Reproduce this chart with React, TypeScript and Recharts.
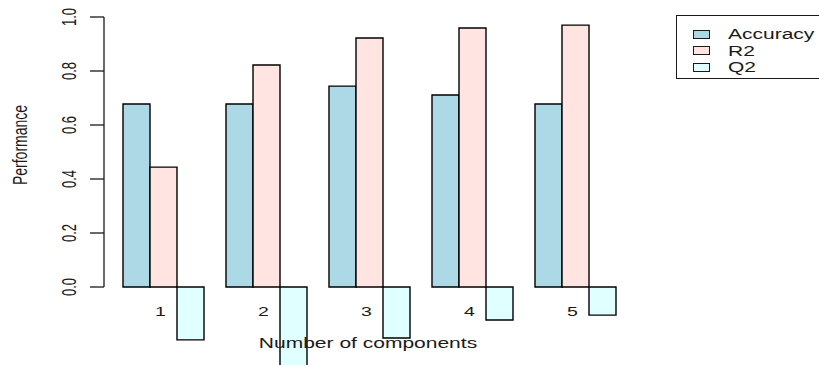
import { Bar, BarChart, LabelList, ReferenceLine, XAxis, YAxis } from 'recharts'

const components = ['1', '2', '3', '4', '5']
const accuracy = [0.678, 0.678, 0.744, 0.711, 0.678]
const r2 = [0.444, 0.822, 0.922, 0.959, 0.97]
const q2 = [-0.196, -0.35, -0.189, -0.122, -0.104]
const yTicks = [0, 0.2, 0.4, 0.6, 0.8, 1]

const series = [
  { key: 'accuracy', name: 'Accuracy', color: '#ADD8E6' },
  { key: 'r2', name: 'R2', color: '#FFE4E1' },
  { key: 'q2', name: 'Q2', color: '#E0FFFF' },
]

const data = components.map((name, i) => ({
  name,
  accuracy: accuracy[i],
  r2: r2[i],
  q2: q2[i],
}))

const FONT = '"Liberation Sans", Arial, sans-serif'
const INK = '#1a1a1a'
const AXIS_X = 104

function YTick({ y, payload }: any) {
  return (
    <g>
      <line x1={AXIS_X - 14} y1={y} x2={AXIS_X} y2={y} stroke={INK} strokeWidth={1.3} />
      <text
        transform={`translate(70, ${y}) scale(1.5, 1) rotate(-90)`}
        textAnchor="middle"
        dominantBaseline="central"
        fontSize={13}
        fontFamily={FONT}
        fill={INK}
      >
        {payload.value.toFixed(1)}
      </text>
    </g>
  )
}

function CategoryLabel({ x, y, width, height, value }: any) {
  const cx = x + width / 2
  const cy = y + height + 25
  return (
    <text
      transform={`translate(${cx - 3}, ${cy}) scale(1.5, 1)`}
      textAnchor="middle"
      dominantBaseline="central"
      fontSize={13}
      fontFamily={FONT}
      fill={INK}
    >
      {value}
    </text>
  )
}

function LegendBox() {
  return (
    <div
      style={{
        position: 'absolute',
        left: 676,
        top: 15,
        border: `1px solid ${INK}`,
        width: 170,
        height: 64,
        boxSizing: 'border-box',
        paddingTop: 10,
        fontFamily: FONT,
      }}
    >
      {series.map((s) => (
        <div key={s.key} style={{ display: 'flex', alignItems: 'center', height: 16.5 }}>
          <div
            style={{
              marginLeft: 16,
              width: 15,
              height: 7,
              background: s.color,
              border: `1.2px solid ${INK}`,
            }}
          />
          <span
            style={{
              marginLeft: 18,
              fontSize: 14,
              color: INK,
              display: 'inline-block',
              transform: 'scaleX(1.5)',
              transformOrigin: 'left center',
              lineHeight: '16px',
            }}
          >
            {s.name}
          </span>
        </div>
      ))}
    </div>
  )
}

export default function App() {
  return (
    <div
      style={{
        position: 'fixed',
        left: 0,
        top: 0,
        width: 819,
        height: 365,
        overflow: 'hidden',
        background: '#fff',
      }}
    >
      <BarChart
        width={819}
        height={422}
        data={data}
        margin={{ top: 17, right: 192.5, left: 0, bottom: 0 }}
        barCategoryGap={11.5}
        barGap={0}
      >
        <XAxis dataKey="name" hide />
        <YAxis
          width={111.5}
          type="number"
          domain={[-0.5, 1]}
          ticks={yTicks}
          axisLine={false}
          tickLine={false}
          tick={<YTick />}
          interval={0}
        />
        <ReferenceLine
          segment={[
            { x: '1', y: 0 },
            { x: '1', y: 1 },
          ]}
          ifOverflow="visible"
          shape={(props: any) => (
            <line x1={AXIS_X} y1={props.y1} x2={AXIS_X} y2={props.y2} stroke={INK} strokeWidth={1.3} />
          )}
        />
        {series.map((s) => (
          <Bar
            key={s.key}
            dataKey={s.key}
            name={s.name}
            fill={s.color}
            stroke="#000"
            strokeWidth={1.4}
            isAnimationActive={false}
          >
            {s.key === 'r2' && <LabelList dataKey="name" content={<CategoryLabel />} />}
          </Bar>
        ))}
      </BarChart>
      <LegendBox />
      <div
        style={{
          position: 'absolute',
          left: 368,
          top: 343,
          transform: 'translate(-50%, -50%) scaleX(1.5)',
          fontFamily: FONT,
          fontSize: 14,
          color: INK,
          whiteSpace: 'nowrap',
        }}
      >
        Number of components
      </div>
      <div
        style={{
          position: 'absolute',
          left: 19,
          top: 145,
          transform: 'translate(-50%, -50%) scaleX(1.5) rotate(-90deg)',
          fontFamily: FONT,
          fontSize: 14,
          color: INK,
          whiteSpace: 'nowrap',
        }}
      >
        Performance
      </div>
    </div>
  )
}
